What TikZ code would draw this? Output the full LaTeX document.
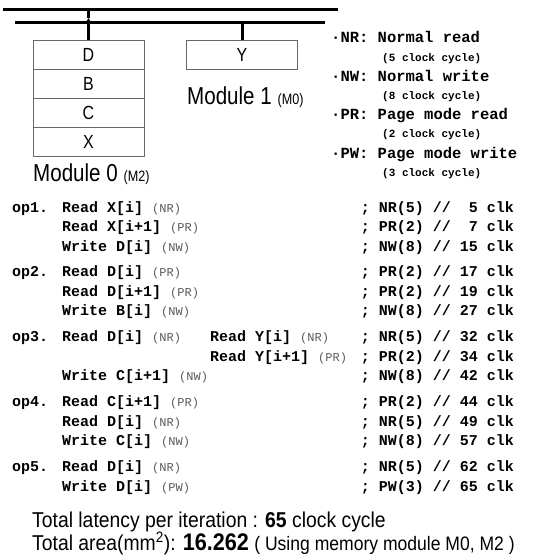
\documentclass[tikz,border=0pt]{standalone}
\usepackage{fontspec}
\setmainfont{Liberation Sans}[FakeStretch=0.84]
\newfontfamily\totfont{Liberation Sans}[FakeStretch=0.9]
\setmonofont{Liberation Mono}
\usepackage{xcolor}
\usetikzlibrary{positioning,arrows.meta}

\newcommand{\modetag}[1]{{\mdseries\fontsize{12}{12}\selectfont\color{black!65}(#1)}}

\begin{document}
\begin{tikzpicture}[x=1pt,y=-1pt,>={Triangle[length=6pt,width=7pt]},
  node distance=0pt,
  bus/.style={line width=3pt},
  cell/.style={draw=black!60,line width=0.7pt,outer sep=0pt,minimum width=111pt,
               minimum height=29pt,inner sep=0pt,font=\fontsize{19}{19}\selectfont},
  modlbl/.style={inner sep=0pt,anchor=base west,font=\fontsize{24.5}{24.5}\selectfont},
  key/.style={inner sep=0pt,anchor=base west,font=\ttfamily\bfseries\fontsize{15.5}{15.5}\selectfont},
  keysub/.style={key,font=\ttfamily\bfseries\fontsize{11}{11}\selectfont},
  op/.style={inner sep=0pt,anchor=base west,font=\ttfamily\bfseries\fontsize{15}{15}\selectfont},
  cmt/.style={op,anchor=base east},
  tot/.style={inner sep=0pt,anchor=base west,font=\totfont\fontsize{21.5}{21.5}\selectfont}]
 \useasboundingbox (0,0) rectangle (546,556);
 % memory buses
 \coordinate (busA-w) at (3,10);  \coordinate (busA-e) at (338,10);
 \coordinate (busB-w) at (15,23); \coordinate (busB-e) at (325,23);
 \draw[bus] (busA-w) -- (busA-e);
 \draw[bus] (busB-w) -- (busB-e);
 % module 0 (M2)
 \node[cell] (mD) at (88.5,54.5) {D};
 \node[cell,below=of mD] (mB) {B};
 \node[cell,below=of mB] (mC) {C};
 \node[cell,below=of mC] (mX) {X};
 \node[modlbl] (m0) at (33,181) {Module 0 {\fontsize{15}{15}\selectfont(M2)}};
 \coordinate (tap) at (88.5,18);
 \draw[bus,->] (mD.north) -- (tap);
 \draw[bus] (tap) -- (tap |- busA-w);
 % module 1 (M0)
 \node[cell] (mY) at (242,54.5) {Y};
 \node[modlbl] (m1) at (187,105) {Module 1 {\fontsize{15}{15}\selectfont(M0)}};
 \draw[bus] (mY.north) -- (mY.north |- busB-w);
 % access modes
 \node[key] (kNR) at (331,43) {·NR: Normal read};
 \node[keysub] (kNRs) at (382,62) {(5 clock cycle)};
 \node[key] (kNW) at (331,82) {·NW: Normal write};
 \node[keysub] (kNWs) at (382,100) {(8 clock cycle)};
 \node[key] (kPR) at (331,120) {·PR: Page mode read};
 \node[keysub] (kPRs) at (382,138) {(2 clock cycle)};
 \node[key] (kPW) at (331,158) {·PW: Page mode write};
 \node[keysub] (kPWs) at (382,176) {(3 clock cycle)};
 % schedule
 \node[op] (op1) at (12,212) {op1.};
 \node[op] (op1a) at (62,212) {Read X[i] \modetag{NR}};
 \node[cmt] (c1) at (514,212) {; NR(5) //~~5 clk};
 \node[op] (op1b) at (62,231.5) {Read X[i+1] \modetag{PR}};
 \node[cmt] (c2) at (514,231.5) {; PR(2) //~~7 clk};
 \node[op] (op1c) at (62,251) {Write D[i] \modetag{NW}};
 \node[cmt] (c3) at (514,251) {; NW(8) // 15 clk};
 \node[op] (op2) at (12,276.5) {op2.};
 \node[op] (op2a) at (62,276.5) {Read D[i] \modetag{PR}};
 \node[cmt] (c4) at (514,276.5) {; PR(2) // 17 clk};
 \node[op] (op2b) at (62,296) {Read D[i+1] \modetag{PR}};
 \node[cmt] (c5) at (514,296) {; PR(2) // 19 clk};
 \node[op] (op2c) at (62,315.5) {Write B[i] \modetag{NW}};
 \node[cmt] (c6) at (514,315.5) {; NW(8) // 27 clk};
 \node[op] (op3) at (12,341.5) {op3.};
 \node[op] (op3a) at (62,341.5) {Read D[i] \modetag{NR}};
 \node[op] (op3y) at (210,341.5) {Read Y[i] \modetag{NR}};
 \node[cmt] (c7) at (514,341.5) {; NR(5) // 32 clk};
 \node[op] (op3z) at (210,361) {Read Y[i+1] \modetag{PR}};
 \node[cmt] (c8) at (514,361) {; PR(2) // 34 clk};
 \node[op] (op3c) at (62,380.5) {Write C[i+1] \modetag{NW}};
 \node[cmt] (c9) at (514,380.5) {; NW(8) // 42 clk};
 \node[op] (op4) at (12,406.5) {op4.};
 \node[op] (op4a) at (62,406.5) {Read C[i+1] \modetag{PR}};
 \node[cmt] (c10) at (514,406.5) {; PR(2) // 44 clk};
 \node[op] (op4b) at (62,426) {Read D[i] \modetag{NR}};
 \node[cmt] (c11) at (514,426) {; NR(5) // 49 clk};
 \node[op] (op4c) at (62,445.5) {Write C[i] \modetag{NW}};
 \node[cmt] (c12) at (514,445.5) {; NW(8) // 57 clk};
 \node[op] (op5) at (12,471.5) {op5.};
 \node[op] (op5a) at (62,471.5) {Read D[i] \modetag{NR}};
 \node[cmt] (c13) at (514,471.5) {; NR(5) // 62 clk};
 \node[op] (op5b) at (62,491) {Write D[i] \modetag{PW}};
 \node[cmt] (c14) at (514,491) {; PW(3) // 65 clk};
 % totals
 \node[tot] (lat) at (32,527) {Total latency per iteration : \textbf{65} clock cycle};
 \node[tot] (area) at (32,550) {Total area(mm\textsuperscript{2}): {\bfseries\fontsize{24}{24}\selectfont 16.262}
   {\fontsize{19.5}{19.5}\selectfont( Using memory module M0, M2 )}};
\end{tikzpicture}
\end{document}
